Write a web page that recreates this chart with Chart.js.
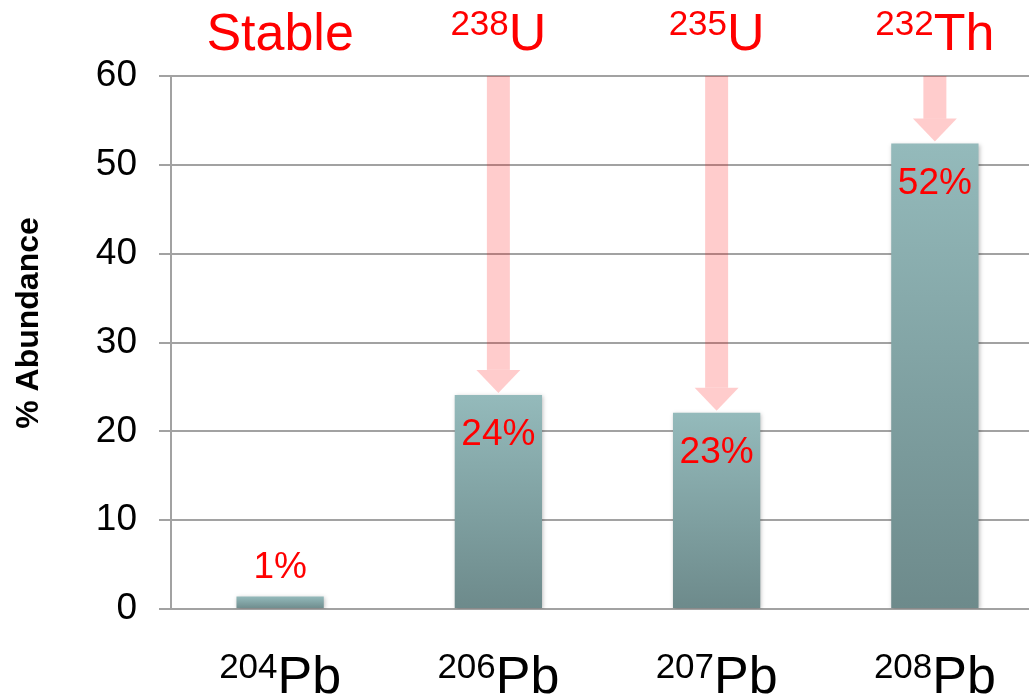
<!DOCTYPE html>
<html>
<head>
<meta charset="utf-8">
<title>Lead isotope abundance</title>
<script src="https://cdn.jsdelivr.net/npm/chart.js@4.4.1/dist/chart.umd.min.js"></script>
<style>
  html, body { margin: 0; padding: 0; background: #fff; overflow: hidden; }
  #wrap { width: 1044px; height: 699px; }
</style>
</head>
<body>
<div id="wrap"><canvas id="chart"></canvas></div>
<script>
const FONT = '"Liberation Sans", Arial, Helvetica, sans-serif';

// isotopes along the x axis (mass number + symbol)
const isotopeMass = ['204', '206', '207', '208'];
const isotopeSymbol = ['Pb', 'Pb', 'Pb', 'Pb'];
// % abundance of each isotope
const abundance = [1.4, 24.1, 22.1, 52.4];
const abundanceLabels = ['1%', '24%', '23%', '52%'];
// parent of each isotope, blank mass = not radiogenic (no arrow)
const parentMass = ['', '238', '235', '232'];
const parentSymbol = ['Stable', 'U', 'U', 'Th'];
const yTicks = [0, 10, 20, 30, 40, 50, 60];

const GRID = '#a2a2a2';
const RED = '#ff0000';

// mass number as superscript, symbol full size, whole thing centred on cx
function drawIsotope(ctx, mass, symbol, cx, baseline, color) {
    ctx.font = `35px ${FONT}`;
    const wm = mass ? ctx.measureText(mass).width : 0;
    ctx.font = `52px ${FONT}`;
    const ws = ctx.measureText(symbol).width;
    let x = cx - (wm + ws) / 2;
    ctx.fillStyle = color;
    ctx.textAlign = 'left';
    ctx.textBaseline = 'alphabetic';
    if (mass) {
        ctx.font = `35px ${FONT}`;
        ctx.fillText(mass, x, baseline - 15);
        x += wm;
    }
    ctx.font = `52px ${FONT}`;
    ctx.fillText(symbol, x, baseline);
}

const barShadow = {
    id: 'barShadow',
    beforeDatasetsDraw(chart) {
        const ctx = chart.ctx;
        ctx.save();
        ctx.shadowColor = 'rgba(0, 0, 0, 0.25)';
        ctx.shadowBlur = 4;
        ctx.shadowOffsetX = 1;
        ctx.shadowOffsetY = 1;
    },
    afterDatasetsDraw(chart) {
        chart.ctx.restore();
    }
};

const annotations = {
    id: 'annotations',
    afterDatasetsDraw(chart) {
        const { ctx, chartArea } = chart;
        const xs = chart.scales.x;
        const ys = chart.scales.y;

        // decay arrows from the top of the plot down to the bar
        ctx.save();
        ctx.fillStyle = 'rgba(255, 0, 0, 0.2)';
        abundance.forEach((v, i) => {
            if (!parentMass[i]) return;
            const cx = xs.getPixelForValue(i);
            const tip = ys.getPixelForValue(v) - 2;
            const headH = 23;
            ctx.fillRect(cx - 11.5, chartArea.top, 23, tip - headH - chartArea.top);
            ctx.beginPath();
            ctx.moveTo(cx - 22, tip - headH);
            ctx.lineTo(cx + 22, tip - headH);
            ctx.lineTo(cx, tip);
            ctx.closePath();
            ctx.fill();
        });
        ctx.restore();

        ctx.save();
        // percentage labels: inside tall bars, above short ones
        ctx.font = `37px ${FONT}`;
        ctx.fillStyle = RED;
        ctx.textAlign = 'center';
        ctx.textBaseline = 'alphabetic';
        abundance.forEach((v, i) => {
            const cx = xs.getPixelForValue(i);
            const top = ys.getPixelForValue(v);
            const y = v > 10 ? top + 50 : top - 19;
            ctx.fillText(abundanceLabels[i], cx, y);
        });

        // parent labels above the plot, isotope labels below
        abundance.forEach((v, i) => {
            const cx = xs.getPixelForValue(i);
            drawIsotope(ctx, parentMass[i], parentSymbol[i], cx, 50, RED);
            drawIsotope(ctx, isotopeMass[i], isotopeSymbol[i], cx, 693, '#000');
        });

        // y axis title
        ctx.translate(29, 323);
        ctx.rotate(-Math.PI / 2);
        ctx.font = `bold 32px ${FONT}`;
        ctx.fillStyle = '#000';
        ctx.textAlign = 'center';
        ctx.textBaseline = 'middle';
        ctx.fillText('% Abundance', 0, 0);
        ctx.restore();
    }
};

new Chart(document.getElementById('chart'), {
    type: 'bar',
    data: {
        labels: isotopeMass.map((m, i) => m + isotopeSymbol[i]),
        datasets: [{
            label: '% Abundance',
            data: abundance,
            backgroundColor: function(context) {
                const chart = context.chart;
                if (!chart.chartArea || context.dataIndex === undefined) return '#84a6a7';
                const ys = chart.scales.y;
                const top = ys.getPixelForValue(abundance[context.dataIndex]);
                const g = chart.ctx.createLinearGradient(0, top, 0, ys.getPixelForValue(0));
                g.addColorStop(0, '#94babb');
                g.addColorStop(1, '#6d8a8b');
                return g;
            },
            borderWidth: 0,
            barPercentage: 0.4,
            categoryPercentage: 1
        }]
    },
    options: {
        responsive: true,
        maintainAspectRatio: false,
        animation: false,
        layout: {
            padding: { top: 76, bottom: 90, left: 0, right: 0 }
        },
        plugins: {
            legend: { display: false },
            tooltip: { enabled: false }
        },
        scales: {
            x: {
                display: false
            },
            y: {
                min: 0,
                max: 60,
                afterBuildTicks: function(scale) {
                    scale.ticks = yTicks.map(v => ({ value: v }));
                },
                afterFit: function(scale) {
                    scale.width = 171;
                },
                grid: {
                    color: GRID,
                    lineWidth: 2,
                    tickLength: 12
                },
                border: {
                    color: GRID,
                    width: 2
                },
                ticks: {
                    color: '#000',
                    padding: 22,
                    font: { family: FONT, size: 37 }
                }
            }
        }
    },
    plugins: [barShadow, annotations]
});
</script>
</body>
</html>
